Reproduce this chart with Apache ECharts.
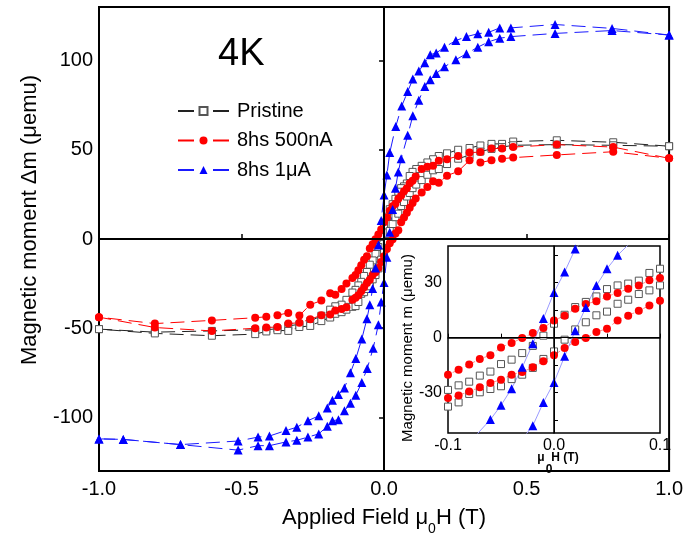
<!DOCTYPE html>
<html lang="en" style="height: 100%">
<head>
  <meta charset="utf-8">
</head>
<body style="height: 100%; margin: 0; background: #fff">
  <div id="container" style="width: 686px; height: 541px"></div>

  <script type="text/javascript" src="https://cdn.jsdelivr.net/npm/echarts@6/dist/echarts.min.js"></script>

  <script type="text/javascript">
    // field (T), moment (uemu) -- descending branch (+1 -> -1) then ascending (-1 -> +1)
    var pristineDown = [[1.0,52],[0.804,54.2],[0.606,55.3],[0.453,54.6],[0.414,53.3],[0.377,53.3],[0.338,52.4],[0.3,51],[0.26,50],[0.221,48],[0.192,46.5],[0.172,44.7],[0.152,42.9],[0.132,41],[0.113,39.2],[0.1,37.6],[0.09,35.3],[0.08,31.1],[0.07,29.5],[0.06,28.5],[0.05,26.5],[0.04,22.5],[0.03,19.5],[0.02,16.7],[0.01,12.5],[0,7.6],[-0.01,1.1],[-0.02,-4.5],[-0.03,-8.4],[-0.04,-12],[-0.05,-14.4],[-0.06,-18.5],[-0.07,-20.7],[-0.08,-24],[-0.09,-26],[-0.1,-28.5],[-0.111,-30],[-0.132,-34.1],[-0.149,-36.8],[-0.171,-37.7],[-0.189,-39.6],[-0.22,-43],[-0.259,-46],[-0.297,-47.8],[-0.336,-48.7],[-0.374,-50.2],[-0.413,-50.9],[-0.452,-50.9],[-0.604,-51.5],[-0.804,-52.2],[-1.0,-50.5]];
    var pristineUp = [[-1.0,-50.5],[-0.804,-52.9],[-0.604,-54.2],[-0.452,-53.3],[-0.413,-51.8],[-0.374,-51.1],[-0.336,-51.5],[-0.297,-49.3],[-0.259,-48.7],[-0.22,-46],[-0.189,-44],[-0.171,-41.9],[-0.149,-41],[-0.132,-39.6],[-0.111,-38],[-0.1,-37.6],[-0.09,-35.3],[-0.08,-30.7],[-0.07,-29.8],[-0.06,-28],[-0.05,-26.5],[-0.04,-22.6],[-0.03,-20.2],[-0.02,-16.5],[-0.01,-11.6],[0,-7.5],[0.01,-1.1],[0.02,4.5],[0.03,8.4],[0.04,12.2],[0.05,14.2],[0.06,18.5],[0.07,20.7],[0.08,23.8],[0.09,25.8],[0.1,28.5],[0.113,30.5],[0.132,33],[0.152,36],[0.172,38.5],[0.192,39.2],[0.221,42],[0.26,45],[0.3,47],[0.338,49],[0.377,50.5],[0.414,51.5],[0.453,52.5],[0.606,52.9],[0.804,52.5],[1.0,52]];

    var nA500Down = [[1.0,45.2],[0.804,51.5],[0.606,52.9],[0.453,51.5],[0.414,50.7],[0.377,50.7],[0.338,48.7],[0.3,48.4],[0.26,46.5],[0.221,44.7],[0.192,43.8],[0.172,41],[0.152,40.5],[0.132,39.2],[0.111,35],[0.1,32.6],[0.09,31.3],[0.08,28.5],[0.07,26.7],[0.06,24.4],[0.05,22.5],[0.04,19.8],[0.03,18.4],[0.02,15.8],[0.01,12],[0,9.4],[-0.01,5.3],[-0.02,2.5],[-0.03,-0.2],[-0.04,-2.9],[-0.05,-5.3],[-0.06,-9.6],[-0.07,-11.6],[-0.08,-14.7],[-0.09,-17.5],[-0.1,-20.2],[-0.111,-21.8],[-0.132,-24.9],[-0.149,-28],[-0.171,-31.3],[-0.189,-30.4],[-0.22,-34.5],[-0.259,-36.8],[-0.297,-42.9],[-0.336,-41.4],[-0.374,-42.7],[-0.413,-43.6],[-0.452,-44.1],[-0.604,-45.6],[-0.804,-47.4],[-1.0,-43.8]];
    var nA500Up = [[-1.0,-43.8],[-0.804,-49.6],[-0.604,-51.5],[-0.452,-50],[-0.413,-49.6],[-0.374,-49.3],[-0.336,-47.4],[-0.297,-46.9],[-0.259,-45],[-0.22,-42.7],[-0.189,-42.3],[-0.171,-40],[-0.149,-39.2],[-0.132,-38.3],[-0.111,-34.1],[-0.1,-32.9],[-0.09,-31.5],[-0.08,-29.3],[-0.07,-27.1],[-0.06,-24.7],[-0.05,-22.9],[-0.04,-20.2],[-0.03,-18.7],[-0.02,-16.2],[-0.01,-12.9],[0,-9.6],[0.01,-5.6],[0.02,-2.4],[0.03,-0.2],[0.04,3.1],[0.05,4.9],[0.06,9.4],[0.07,12],[0.08,14.7],[0.09,17.5],[0.1,20.2],[0.111,22.7],[0.132,26],[0.152,29.1],[0.172,32.4],[0.192,31.5],[0.221,35.5],[0.26,37.9],[0.3,44.1],[0.338,42.9],[0.377,44.1],[0.414,45],[0.453,45.6],[0.606,47.1],[0.804,48.9],[1.0,45.2]];

    var uA1Down = [[1.0,114.3],[0.8,118],[0.6,120.2],[0.445,118.3],[0.406,118.3],[0.367,115.8],[0.329,115],[0.289,113.4],[0.252,111.2],[0.212,107.5],[0.183,104.2],[0.162,103.3],[0.143,98.7],[0.122,94.1],[0.101,89.6],[0.083,82.6],[0.062,74.5],[0.041,63],[0.02,48.4],[0.01,35.8],[0,24.7],[-0.01,10.4],[-0.02,-3.3],[-0.03,-16.2],[-0.04,-27.8],[-0.05,-36.9],[-0.06,-44.7],[-0.078,-56],[-0.099,-67],[-0.118,-74.9],[-0.139,-83.5],[-0.16,-87.2],[-0.181,-90.3],[-0.199,-94.7],[-0.229,-99.1],[-0.267,-101.8],[-0.306,-105.5],[-0.344,-107.3],[-0.402,-110.4],[-0.442,-111],[-0.512,-113.2],[-0.714,-115.2],[-0.915,-112.3],[-1.0,-112]];
    var uA1Up = [[-1.0,-112],[-0.915,-112.3],[-0.714,-115.2],[-0.512,-118.3],[-0.442,-115.8],[-0.402,-115.8],[-0.344,-113.7],[-0.306,-112.8],[-0.267,-111],[-0.229,-109.2],[-0.199,-104.9],[-0.181,-101.8],[-0.16,-101.3],[-0.139,-96.3],[-0.118,-92.1],[-0.099,-87.5],[-0.078,-80.4],[-0.059,-72.5],[-0.038,-61.2],[-0.02,-48],[-0.01,-35.3],[0,-24.4],[0.01,-10.2],[0.02,3.8],[0.03,16.5],[0.04,28.4],[0.05,37.6],[0.06,44.9],[0.083,58.1],[0.101,69.1],[0.122,77.7],[0.143,85.5],[0.162,89.2],[0.183,92.7],[0.212,96.5],[0.252,100.5],[0.289,103.8],[0.329,107.5],[0.367,110.5],[0.406,112.5],[0.445,113.4],[0.6,115.2],[0.8,116.8],[1.0,114.3]];

    var mainYTicks = [-100, -50, 0, 50, 100];
    var insetXLabels = [-0.1, 0, 0.1];
    var insetYLabels = [-30, 0, 30];
    var insetYTicks = [-45, -30, -15, 0, 15, 30, 45];

    var names = ['Pristine', '8hs 500nA', '8hs 1\u03bcA'];
    var FONT = 'Liberation Sans, Arial, sans-serif';

    var dom = document.getElementById('container');
    var myChart = echarts.init(dom, null, { renderer: 'canvas' });

    var dash = [14, 7];
    var styles = [
      { symbol: 'rect', symbolSize: 7, itemStyle: { color: '#fff', borderColor: '#555', borderWidth: 1 }, line: '#222', inset: { color: '#999', width: 1, opacity: 0 } },
      { symbol: 'circle', symbolSize: 8, itemStyle: { color: '#ff0000' }, line: '#ff0000', inset: { color: '#ff8c8c', width: 1, type: [4, 3] } },
      { symbol: 'triangle', symbolSize: 9, itemStyle: { color: '#0000ff' }, line: '#1a1aff', inset: { color: '#9a9aff', width: 1, type: 'solid' } }
    ];
    var loops = [
      pristineDown.concat(pristineUp),
      nA500Down.concat(nA500Up),
      uA1Down.concat(uA1Up)
    ];

    var series = [];
    loops.forEach(function (d, i) {
      var s = styles[i];
      series.push({
        name: names[i], type: 'line', xAxisIndex: 0, yAxisIndex: 0,
        data: d, symbol: s.symbol, symbolSize: s.symbolSize, showAllSymbol: true,
        itemStyle: s.itemStyle,
        lineStyle: { color: s.line, width: 1, type: dash },
        markLine: i === 0 ? {
          silent: true, symbol: 'none', label: { show: false },
          lineStyle: { color: '#000', width: 2, type: 'solid' },
          data: [{ xAxis: 0 }, { yAxis: 0 }]
        } : undefined
      });
    });
    loops.forEach(function (d, i) {
      var s = styles[i];
      series.push({
        name: names[i], type: 'line', xAxisIndex: 1, yAxisIndex: 1,
        data: d, symbol: s.symbol, symbolSize: s.symbolSize, showAllSymbol: true,
        itemStyle: s.itemStyle, clip: true,
        lineStyle: s.inset,
        markLine: i === 0 ? {
          silent: true, symbol: 'none', label: { show: false },
          lineStyle: { color: '#000', width: 1, type: 'solid' },
          data: [{ xAxis: 0 }, { yAxis: 0 }]
        } : undefined
      });
    });

    var option = {
      animation: false,
      backgroundColor: '#fff',
      textStyle: { fontFamily: FONT },
      grid: [
        { left: 99, top: 7, width: 572, height: 470, show: true, borderColor: '#000', borderWidth: 2 },
        { left: 448, top: 246, width: 212, height: 187, show: true, backgroundColor: '#fff', borderColor: '#000', borderWidth: 1.5 }
      ],
      legend: {
        data: names, orient: 'vertical', left: 177, top: 101, padding: 0,
        itemWidth: 51, itemHeight: 10, itemGap: 9.5, selectedMode: false,
        lineStyle: { type: [16, 19] },
        textStyle: { fontSize: 20, color: '#000', fontFamily: FONT, padding: [0, 0, 0, 3] }
      },
      xAxis: [
        {
          type: 'value', gridIndex: 0, min: -1, max: 1, interval: 0.5,
          axisLine: { lineStyle: { color: '#000', width: 2 } },
          axisTick: { inside: true, length: 5, lineStyle: { color: '#000', width: 1.5 } },
          axisLabel: { fontSize: 20, color: '#000', margin: 8, formatter: function (v) { return v.toFixed(1); } },
          splitLine: { show: false },
          name: '{n|Applied Field \u03bc}{s|0}{n|H (T)}', nameLocation: 'middle', nameGap: 36,
          nameTextStyle: {
            rich: {
              n: { fontSize: 22, color: '#000', fontFamily: FONT, verticalAlign: 'bottom', padding: [0, 0, 7, 0] },
              s: { fontSize: 14, color: '#000', fontFamily: FONT, verticalAlign: 'bottom' }
            }
          }
        },
        {
          type: 'value', gridIndex: 1, min: -0.1, max: 0.1, interval: 0.05,
          axisLine: { lineStyle: { color: '#000', width: 1.5 } },
          axisTick: { inside: true, length: 4, lineStyle: { color: '#000' } },
          axisLabel: { fontSize: 16, color: '#000', margin: 5, customValues: insetXLabels, formatter: function (v) { return v.toFixed(1); } },
          splitLine: { show: false }
        }
      ],
      yAxis: [
        {
          type: 'value', gridIndex: 0, min: -130, max: 130,
          axisLine: { lineStyle: { color: '#000', width: 2 } },
          axisTick: { inside: false, length: 5, customValues: mainYTicks, lineStyle: { color: '#000', width: 1.5 } },
          axisLabel: { fontSize: 20, color: '#000', margin: 6, customValues: mainYTicks },
          splitLine: { show: false }
        },
        {
          type: 'value', gridIndex: 1, min: -52, max: 50,
          axisLine: { lineStyle: { color: '#000', width: 1.5 } },
          axisTick: { inside: true, length: 4, customValues: insetYTicks, lineStyle: { color: '#000' } },
          axisLabel: { fontSize: 16, color: '#000', margin: 6, customValues: insetYLabels },
          splitLine: { show: false }
        }
      ],
      graphic: [
        { type: 'text', left: 218, top: 36, style: { text: '4K', fontSize: 38, fill: '#000', fontFamily: FONT } },
        { type: 'text', x: 30, y: 220, rotation: Math.PI / 2,
          style: { text: 'Magnetic moment \u0394m (\u03bcemu)', fontSize: 22, fill: '#000', fontFamily: FONT, align: 'center', verticalAlign: 'middle' } },
        { type: 'text', x: 408, y: 348, rotation: Math.PI / 2,
          style: { text: 'Magnetic moment m (\u03bcemu)', fontSize: 15, fill: '#000', fontFamily: FONT, align: 'center', verticalAlign: 'middle' } },
        { type: 'text', x: 558, y: 458, style: { text: '\u03bc  H (T)', fontSize: 12, fontWeight: 'bold', fill: '#000', fontFamily: FONT, align: 'center', verticalAlign: 'middle' } },
        { type: 'text', x: 549, y: 470, style: { text: '0', fontSize: 12, fontWeight: 'bold', fill: '#000', fontFamily: FONT, align: 'center', verticalAlign: 'middle' } }
      ],
      series: series
    };

    myChart.setOption(option);
    window.addEventListener('resize', myChart.resize);
  </script>
</body>
</html>
